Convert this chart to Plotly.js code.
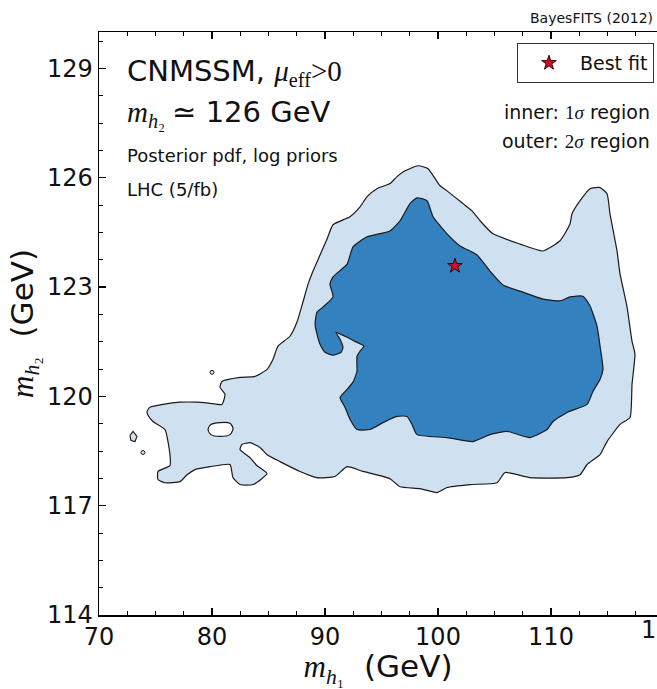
<!DOCTYPE html>
<html>
<head>
<meta charset="utf-8">
<script src="https://cdn.plot.ly/plotly-3.0.1.min.js"></script>
<style>html,body{margin:0;padding:0;background:#fff;}#plot{width:657px;height:689px;}</style>
</head>
<body>
<div id="plot"></div>
<script>
// 2-sigma (outer) credible region boundary: m_h1 (GeV), m_h2 (GeV)
const outerX = [74.25,74.51,75.66,77.17,78.67,79.82,80.88,81.15,80.71,80.88,82.48,83.81,84.87,85.40,85.84,86.90,87.52,88.05,88.50,88.94,89.56,90.18,90.71,92.21,93.10,93.72,94.60,95.75,96.37,97.08,98.23,99.12,100.18,100.80,102.21,103.01,103.72,104.87,107.26,109.29,110.80,111.68,111.86,112.57,113.45,114.34,114.96,115.22,115.84,116.11,116.73,117.17,117.43,117.17,116.99,116.11,114.96,114.34,113.19,112.57,111.42,108.14,105.93,105.22,102.83,100.80,99.91,98.41,96.64,95.75,93.36,91.95,90.88,89.29,87.79,86.02,84.87,84.25,83.36,82.65,82.48,83.36,83.98,84.87,83.63,82.48,81.86,81.59,79.82,78.50,77.79,77.17,75.84,75.22,75.22,76.28,76.28,75.84,74.78,74.34];
const outerY = [119.59,119.70,119.78,119.84,119.84,119.81,119.78,120.06,120.25,120.41,120.52,120.55,120.74,121.02,121.38,121.65,122.04,122.59,123.08,123.44,123.88,124.32,124.71,124.93,125.20,125.48,125.70,125.84,126.03,126.19,126.33,126.25,125.78,125.64,125.29,125.09,124.82,124.46,124.18,123.99,124.27,124.73,125.01,125.37,125.70,125.73,125.56,125.01,123.99,123.36,122.45,121.51,121.16,120.33,119.42,119.23,118.76,118.40,118.13,117.85,117.77,117.77,117.91,117.63,117.58,117.50,117.36,117.47,117.52,117.74,117.94,118.07,117.80,117.77,117.94,118.21,118.40,118.60,118.73,118.68,118.54,118.32,118.10,117.88,117.58,117.58,117.77,118.13,118.07,117.99,117.85,117.66,117.63,117.72,117.94,118.10,118.40,119.09,119.31,119.48];

// hole inside the outer region
const holeX = [79.65,79.91,80.71,81.59,81.86,81.59,80.71,79.91];
const holeY = [119.09,119.23,119.28,119.26,119.12,118.95,118.90,118.95];

// small isolated island (outer level)
const islandX = [72.74,73.01,73.36,73.19,72.83];
const islandY = [118.93,119.04,118.90,118.76,118.79];

// tiny isolated spots
const spotX = [73.89, 80.0];
const spotY = [118.46, 120.66];

// 1-sigma (inner) credible region boundary
const innerX = [98.14,99.03,99.56,100.80,101.95,103.45,104.60,105.75,107.52,109.29,110.80,111.68,112.83,113.45,114.07,114.34,114.60,114.34,113.72,113.19,111.42,110.18,109.65,108.14,106.11,104.60,103.10,100.80,98.14,97.70,97.26,96.37,95.13,93.98,92.83,92.21,91.77,91.33,91.95,92.48,92.83,92.83,93.10,93.45,92.65,91.77,90.97,91.33,91.59,91.42,90.71,90.00,89.56,89.29,89.12,89.29,89.82,90.71,90.44,90.71,91.95,92.48,93.72,95.75,96.64,97.52];
const innerY = [125.45,125.37,124.93,124.46,124.13,123.88,123.44,123.06,122.86,122.67,122.62,122.73,122.75,122.48,121.93,121.38,120.74,120.47,120.14,119.78,119.56,119.31,119.09,118.87,119.04,118.95,118.76,118.87,118.95,119.23,119.45,119.45,119.28,119.09,119.09,119.37,119.70,119.97,120.19,120.39,120.69,121.10,121.24,121.38,121.51,121.65,121.76,121.57,121.35,121.21,121.13,121.21,121.43,121.71,121.98,122.31,122.45,122.73,123.08,123.28,123.63,124.10,124.38,124.54,124.82,125.29];

// best-fit point
const bestX = [101.5];
const bestY = [123.58];

const xTicks = [70, 80, 90, 100, 110];
const yTicks = [114, 117, 120, 123, 126, 129];

const LIGHT = '#cfe0f1';
const DARK = '#3481c0';
const EDGE = '#1a1a1a';
const SERIF = "'Liberation Serif'";

const close = a => a.concat([a[0]]);

const traces = [
  {x: close(outerX), y: close(outerY), mode: 'lines', fill: 'toself', fillcolor: LIGHT,
   line: {color: EDGE, width: 1.2, shape: 'spline', smoothing: 0.5}, showlegend: false, hoverinfo: 'skip'},
  {x: close(holeX), y: close(holeY), mode: 'lines', fill: 'toself', fillcolor: '#ffffff',
   line: {color: EDGE, width: 1.2, shape: 'spline', smoothing: 0.8}, showlegend: false, hoverinfo: 'skip'},
  {x: close(islandX), y: close(islandY), mode: 'lines', fill: 'toself', fillcolor: LIGHT,
   line: {color: EDGE, width: 1.1}, showlegend: false, hoverinfo: 'skip'},
  {x: spotX, y: spotY, mode: 'markers', marker: {size: 4, color: LIGHT, line: {color: EDGE, width: 1}},
   showlegend: false, hoverinfo: 'skip'},
  {x: close(innerX), y: close(innerY), mode: 'lines', fill: 'toself', fillcolor: DARK,
   line: {color: EDGE, width: 1.2, shape: 'spline', smoothing: 0.5}, showlegend: false, hoverinfo: 'skip'},
  {x: bestX, y: bestY, mode: 'markers', name: 'Best fit',
   marker: {symbol: 'star', size: 11, color: '#c8102e', line: {color: '#400000', width: 1}}, showlegend: true}
];

const ax = {
  showgrid: false, zeroline: false, showline: true, linecolor: '#000', linewidth: 1.5,
  ticks: 'inside', ticklen: 7, tickwidth: 1.2, tickcolor: '#000',
  tickfont: {family: 'DejaVu Sans', size: 24, color: '#111'}
};

const layout = {
  width: 657, height: 689,
  margin: {l: 99, r: 0, t: 32, b: 74, pad: 0},
  paper_bgcolor: '#fff', plot_bgcolor: '#fff',
  hovermode: false,
  font: {family: 'DejaVu Sans', color: '#111'},
  xaxis: Object.assign({}, ax, {
    range: [70, 119.38], tickvals: xTicks, ticktext: xTicks.map(String), mirror: 'ticks',
    minor: {dtick: 2.5, tick0: 70, ticks: 'inside', ticklen: 4, tickwidth: 1, tickcolor: '#000', showgrid: false},
    title: {text: `<span style="font-family:${SERIF}"><i>m</i><sub><i>h</i>₁</sub></span>  (GeV)`,
            font: {family: 'DejaVu Sans', size: 31, color: '#111'}, standoff: 6}
  }),
  yaxis: Object.assign({}, ax, {
    range: [114, 130], tickvals: yTicks, ticktext: yTicks.map(String), mirror: false,
    minor: {dtick: 0.75, tick0: 114, ticks: 'inside', ticklen: 4, tickwidth: 1, tickcolor: '#000', showgrid: false},
    title: {text: `<span style="font-family:${SERIF}"><i>m</i><sub><i>h</i>₂</sub></span>  (GeV)`,
            font: {family: 'DejaVu Sans', size: 31, color: '#111'}, standoff: 4}
  }),
  legend: {x: 0.9946, xanchor: 'right', y: 0.981, yanchor: 'top', bgcolor: '#fff', itemwidth: 52,
           bordercolor: '#333', borderwidth: 1, font: {family: 'DejaVu Sans', size: 19, color: '#111'}},
  annotations: [
    {xref: 'paper', yref: 'paper', x: 0.9964, y: 1.024, xanchor: 'right', yanchor: 'middle', showarrow: false,
     text: 'BayesFITS (2012)', font: {size: 14, color: '#111'}},
    {xref: 'paper', yref: 'paper', x: 1.0125, y: -0.026, xanchor: 'center', yanchor: 'middle', showarrow: false,
     text: '120', font: {size: 24, color: '#111'}},
    {xref: 'paper', yref: 'paper', x: 0.047, y: 0.931, xanchor: 'left', yanchor: 'middle', showarrow: false,
     text: `CNMSSM, <span style="font-family:${SERIF}"><i>μ</i><sub>eff</sub>&gt;0</span>`, font: {size: 29, color: '#111'}},
    {xref: 'paper', yref: 'paper', x: 0.047, y: 0.86, xanchor: 'left', yanchor: 'middle', showarrow: false,
     text: `<span style="font-family:${SERIF}"><i>m</i><sub><i>h</i>₂</sub> ≃</span> 126 GeV`, font: {size: 29, color: '#111'}},
    {xref: 'paper', yref: 'paper', x: 0.047, y: 0.789, xanchor: 'left', yanchor: 'middle', showarrow: false,
     text: 'Posterior pdf, log priors', font: {size: 18, color: '#111'}},
    {xref: 'paper', yref: 'paper', x: 0.047, y: 0.729, xanchor: 'left', yanchor: 'middle', showarrow: false,
     text: 'LHC (5/fb)', font: {size: 18, color: '#111'}},
    {xref: 'paper', yref: 'paper', x: 0.991, y: 0.863, xanchor: 'right', yanchor: 'middle', showarrow: false,
     text: `inner: <span style="font-family:${SERIF}">1<i>σ</i></span> region`, font: {size: 19, color: '#111'}},
    {xref: 'paper', yref: 'paper', x: 0.991, y: 0.813, xanchor: 'right', yanchor: 'middle', showarrow: false,
     text: `outer: <span style="font-family:${SERIF}">2<i>σ</i></span> region`, font: {size: 19, color: '#111'}}
  ]
};

Plotly.newPlot('plot', traces, layout, {displayModeBar: false, staticPlot: true});
</script>
</body>
</html>
